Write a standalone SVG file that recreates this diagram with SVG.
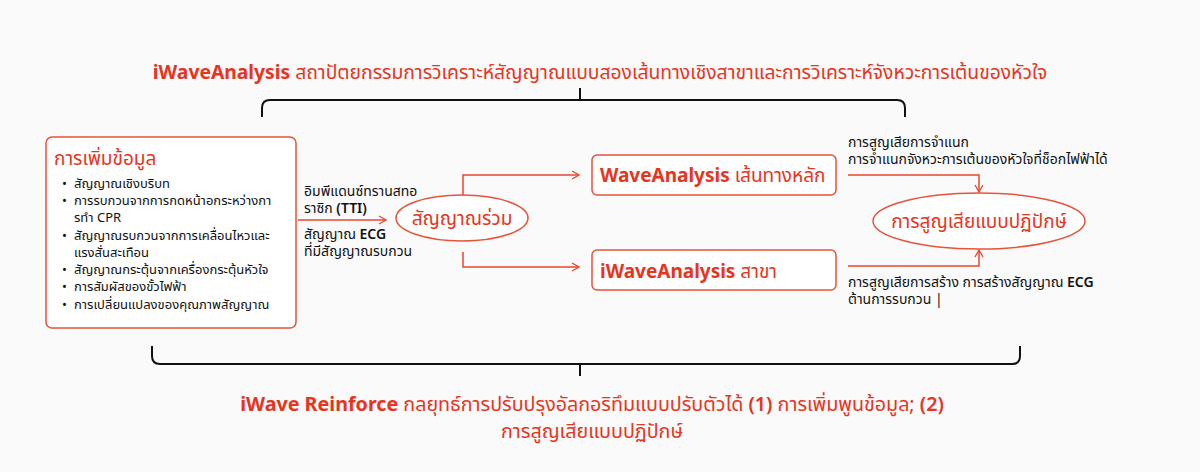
<svg xmlns="http://www.w3.org/2000/svg" width="1200" height="472" viewBox="0 0 1200 472">
<defs>
<marker id="ah" markerWidth="10" markerHeight="10" refX="8" refY="5" orient="auto" markerUnits="userSpaceOnUse">
<path d="M1,1 L8,5 L1,9" fill="none" stroke="#e8472e" stroke-width="1.3"/>
</marker>
<style>
text{font-family:"Noto Sans","Noto Sans Thai","Noto Sans CJK SC",sans-serif;}
.red{fill:#e8341c;}
.b{font-weight:bold;}
.m{font-weight:600;}
.blk{fill:#111;font-size:13px;}
.lbl{fill:#111;font-size:14px;}
.box{fill:#fff;stroke:#e8533a;stroke-width:1.5;}
.ln{fill:none;stroke:#e8472e;stroke-width:1.5;}
.brace{fill:none;stroke:#111;stroke-width:2;}
</style>
</defs>
<rect width="1200" height="472" fill="#fafafa"/>
<g id="title">
<text x="600" y="79" text-anchor="middle" class="red" font-size="19.3"><tspan class="b">iWaveAnalysis</tspan> สถาปัตยกรรมการวิเคราะห์สัญญาณแบบสองเส้นทางเชิงสาขาและการวิเคราะห์จังหวะการเต้นของหัวใจ</text>
</g>
<g id="brace-top">
<path class="brace" d="M262,117 L262,108 Q262,100 270,100 L897,100 Q905,100 905,108 L905,117 M580,100 L580,88"/>
</g>
<g id="brace-bottom">
<path class="brace" d="M152,346 L152,356 Q152,364 160,364 L1012,364 Q1020,364 1020,356 L1020,346 M580,364 L580,376"/>
</g>
<g id="data-aug">
<rect class="box" x="46" y="137" width="250" height="191" rx="6"/>
<text x="54" y="165" class="red" font-size="19">การเพิ่มข้อมูล</text>
<g class="blk">
<text x="62" y="188">•</text><text x="74" y="188">สัญญาณเชิงบริบท</text>
<text x="62" y="205">•</text><text x="74" y="205">การรบกวนจากการกดหน้าอกระหว่างกา</text>
<text x="74" y="222">รทำ CPR</text>
<text x="62" y="240">•</text><text x="74" y="240">สัญญาณรบกวนจากการเคลื่อนไหวและ</text>
<text x="74" y="257">แรงสั่นสะเทือน</text>
<text x="62" y="274">•</text><text x="74" y="274">สัญญาณกระตุ้นจากเครื่องกระตุ้นหัวใจ</text>
<text x="62" y="291">•</text><text x="74" y="291">การสัมผัสของขั้วไฟฟ้า</text>
<text x="62" y="309">•</text><text x="74" y="309">การเปลี่ยนแปลงของคุณภาพสัญญาณ</text>
</g>
</g>
<g id="combined">
<ellipse class="box" cx="462" cy="218" rx="66" ry="23"/>
<text x="462" y="225" text-anchor="middle" class="red" font-size="19">สัญญาณร่วม</text>
</g>
<g id="main-path">
<rect class="box" x="592" y="155" width="244" height="40" rx="5"/>
<text x="600" y="182" class="red" font-size="19"><tspan class="b">WaveAnalysis</tspan> เส้นทางหลัก</text>
</g>
<g id="branch">
<rect class="box" x="592" y="250" width="244" height="40" rx="5"/>
<text x="600" y="278" class="red" font-size="19"><tspan class="b">iWaveAnalysis</tspan> สาขา</text>
</g>
<g id="adv-loss">
<ellipse class="box" cx="979" cy="221" rx="106" ry="28"/>
<text x="979" y="228" text-anchor="middle" class="red" font-size="19">การสูญเสียแบบปฏิปักษ์</text>
</g>
<g id="bottom-text">
<text x="592" y="411" text-anchor="middle" class="red" font-size="19.7"><tspan class="b">iWave Reinforce</tspan> กลยุทธ์การปรับปรุงอัลกอริทึมแบบปรับตัวได้ <tspan class="m">(1)</tspan> การเพิ่มพูนข้อมูล; <tspan class="m">(2)</tspan></text>
<text x="592" y="438" text-anchor="middle" class="red" font-size="19.7">การสูญเสียแบบปฏิปักษ์</text>
</g>
<g id="connectors">
<path class="ln" d="M298,220 L386,220" marker-end="url(#ah)"/>
<path class="ln" d="M463,195 L463,175 L579,175" marker-end="url(#ah)"/>
<path class="ln" d="M463,252 L463,267 L579,267" marker-end="url(#ah)"/>
<path class="ln" d="M848,175 L979,175 L979,192" marker-end="url(#ah)"/>
<path class="ln" d="M848,266 L979,266 L979,250" marker-end="url(#ah)"/>
</g>
<g id="labels" class="lbl">
<text x="304" y="196">อิมพีแดนซ์ทรานสทอ</text>
<text x="304" y="213">ราซิก <tspan class="m">(TTI)</tspan></text>
<text x="304" y="239">สัญญาณ <tspan class="m">ECG</tspan></text>
<text x="304" y="256">ที่มีสัญญาณรบกวน</text>
<text x="848" y="147">การสูญเสียการจำแนก</text>
<text x="848" y="164">การจำแนกจังหวะการเต้นของหัวใจที่ช็อกไฟฟ้าได้</text>
<text x="848" y="287">การสูญเสียการสร้าง การสร้างสัญญาณ <tspan class="m">ECG</tspan></text>
<text x="848" y="304">ต้านการรบกวน |</text>
</g>
</svg>
